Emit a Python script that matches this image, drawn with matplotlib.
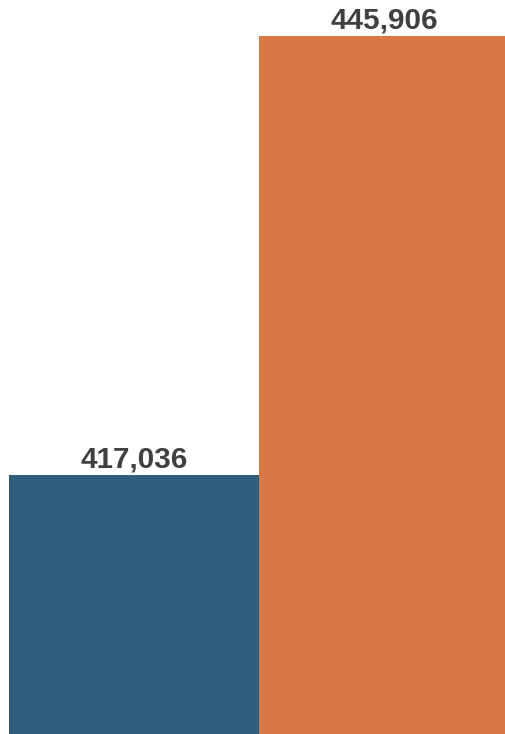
import matplotlib
matplotlib.use("Agg")
import matplotlib.pyplot as plt

categories = ["A", "B"]
values = [417036, 445906]
colors = ["#2F5F7F", "#D97842"]

fig = plt.figure(figsize=(5.05, 7.34), dpi=100)
ax = fig.add_axes([9 / 505, 0, 1 - 9 / 505, 1])

xs = range(len(categories))
bars = ax.bar(xs, values, width=1.0, color=colors, linewidth=0)

for b, v in zip(bars, values):
    ax.annotate(f"{v:,}", (b.get_x() + b.get_width() / 2, b.get_height()),
                xytext=(0, 1), textcoords="offset points",
                ha="center", va="bottom", fontsize=21.3, fontweight="bold",
                color="#404040", family="Liberation Sans")

# right bar is cut a little by the figure edge
ax.set_xlim(-0.5, 1.484)
ax.set_ylim(400000, 448300)
ax.axis("off")

fig.savefig("out.png", dpi=100)
